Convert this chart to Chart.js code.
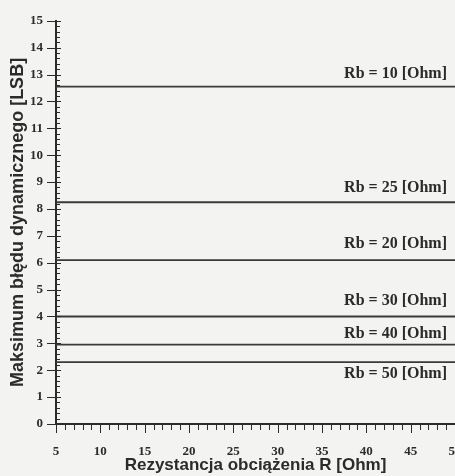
<!DOCTYPE html>
<html>
<head>
<meta charset="utf-8">
<script src="https://cdn.jsdelivr.net/npm/chart.js@4.4.1/dist/chart.umd.min.js"></script>
<style>
  html, body { margin: 0; padding: 0; background: #f3f3f1; }
  #wrap { width: 455px; height: 476px; }
</style>
</head>
<body>
<div id="wrap"><canvas id="chart"></canvas></div>
<script>
// values
const rbLabels = ["Rb = 10 [Ohm]", "Rb = 25 [Ohm]", "Rb = 20 [Ohm]", "Rb = 30 [Ohm]", "Rb = 40 [Ohm]", "Rb = 50 [Ohm]"];
const rbErrors = [12.55, 8.25, 6.1, 4.0, 2.95, 2.3];
const rRange = [5, 50];
const errRange = [0, 15];

const ink = "#2b2b2b";
// vertical nudge of each curve label from its line (px), last one sits below
const labelNudge = [-13, -14, -16, -16, -11, 12];

const decorPlugin = {
    id: "decor",
    afterDraw(chart) {
        const { ctx, chartArea, scales } = chart;
        const x = scales.x, y = scales.y;
        ctx.save();
        ctx.strokeStyle = ink;
        ctx.lineWidth = 1;
        // y ticks: minor every 0.2 inside, major every 1 both sides
        for (let i = errRange[0] * 5; i <= errRange[1] * 5; i++) {
            const py = Math.round(y.getPixelForValue(i / 5)) + 0.5;
            const major = i % 5 === 0;
            ctx.beginPath();
            ctx.moveTo(chartArea.left - (major ? 9 : 0), py);
            ctx.lineTo(chartArea.left + (major ? 5 : 4), py);
            ctx.stroke();
        }
        // x ticks: minor every 1, major every 5, hanging below
        for (let v = rRange[0]; v <= rRange[1]; v++) {
            const px = Math.round(x.getPixelForValue(v)) + 0.5;
            const major = v % 5 === 0;
            ctx.beginPath();
            ctx.moveTo(px, chartArea.bottom);
            ctx.lineTo(px, chartArea.bottom + (major ? 9 : 6));
            ctx.stroke();
        }
        // curve labels
        ctx.fillStyle = ink;
        ctx.font = "bold 16px 'Liberation Serif'";
        ctx.textAlign = "right";
        ctx.textBaseline = "middle";
        rbLabels.forEach((label, i) => {
            const py = y.getPixelForValue(rbErrors[i]) + labelNudge[i];
            ctx.fillText(label, chartArea.right - 8, py);
        });
        ctx.restore();
    }
};

new Chart(document.getElementById("chart"), {
    type: "line",
    data: {
        datasets: rbLabels.map((label, i) => ({
            label: label,
            data: [{ x: rRange[0], y: rbErrors[i] }, { x: rRange[1], y: rbErrors[i] }],
            borderColor: "#3a3a3a",
            borderWidth: 1.8,
            pointRadius: 0,
            fill: false
        }))
    },
    options: {
        responsive: true,
        maintainAspectRatio: false,
        animation: false,
        layout: { padding: { top: 20, right: 0, left: 0, bottom: 0 } },
        plugins: {
            legend: { display: false },
            tooltip: { enabled: false }
        },
        scales: {
            x: {
                type: "linear",
                min: rRange[0],
                max: rRange[1],
                ticks: {
                    stepSize: 5,
                    padding: 20,
                    color: ink,
                    maxRotation: 0,
                    font: { family: "Liberation Serif", size: 13, weight: "bold" }
                },
                grid: { display: false, drawTicks: false },
                border: { color: ink, width: 2 },
                title: {
                    display: true,
                    text: "Rezystancja obciążenia R [Ohm]",
                    color: ink,
                    font: { family: "Liberation Sans", size: 17, weight: "bold" },
                    padding: { top: 0, bottom: 0 }
                },
                afterFit(s) {
                    s.height = 52;
                    s.paddingLeft = 0;
                    s.paddingRight = 0;
                }
            },
            y: {
                min: errRange[0],
                max: errRange[1],
                ticks: {
                    stepSize: 1,
                    padding: 13,
                    color: ink,
                    font: { family: "Liberation Serif", size: 13, weight: "bold" }
                },
                grid: { display: false, drawTicks: false },
                border: { color: ink, width: 2 },
                title: {
                    display: true,
                    text: "Maksimum błędu dynamicznego [LSB]",
                    color: ink,
                    font: { family: "Liberation Sans", size: 18, weight: "bold" },
                    padding: { top: 7, bottom: 0 }
                },
                afterFit(s) {
                    s.width = 56;
                }
            }
        }
    },
    plugins: [decorPlugin]
});
</script>
</body>
</html>
